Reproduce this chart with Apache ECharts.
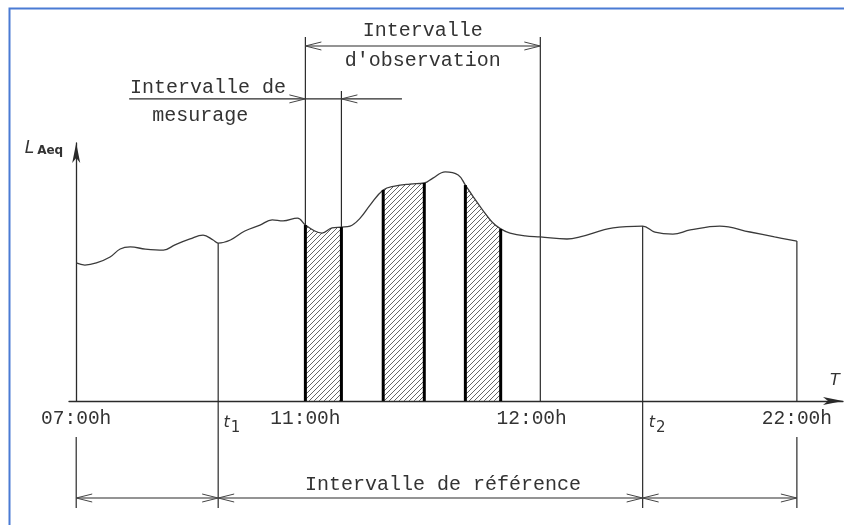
<!DOCTYPE html>
<html>
<head>
<meta charset="utf-8">
<script src="https://cdn.jsdelivr.net/npm/echarts@6/dist/echarts.min.js"></script>
<style>
  html, body { margin: 0; padding: 0; background: #fff; }
  #chart { width: 844px; height: 525px; }
</style>
</head>
<body>
<div id="chart"></div>
<script>
// L_Aeq curve (arbitrary units: x 0 = 07:00h, x 100 = 22:00h)
const curveX = [0, 1.2, 2.8, 4.7, 6.1, 7.5, 9.6, 12.1, 13.7, 15.8, 17.6, 19.0, 19.7, 21.4, 23.4, 25.5, 27.2, 28.7, 30.7,
  31.8, 33.1, 34.1, 35.5, 36.8, 38.0, 39.4, 40.8, 42.6, 44.2, 46.3, 48.3, 49.5, 51.2, 53.0, 54.0, 55.1, 56.4, 57.7, 58.9,
  60.2, 62.3, 64.4, 68.1, 69.9, 74.5, 78.6, 80.3, 82.8, 85.2, 89.3, 93.5, 96.9, 100];
const curveY = [53.5, 52.7, 53.5, 55.8, 58.9, 59.7, 58.9, 58.5, 60.5, 62.8, 64.3, 62.4, 61.2, 62.4, 65.9, 68.2, 70.2, 69.8, 70.9,
  68.2, 65.9, 65.1, 67.1, 67.4, 67.8, 70.9, 76.0, 81.8, 83.3, 84.1, 84.5, 86.4, 88.8, 87.6, 83.7, 79.1, 74.0, 69.4, 66.7,
  65.1, 64.0, 63.6, 62.8, 63.6, 67.1, 67.8, 65.5, 64.7, 66.3, 67.8, 65.5, 63.6, 62.0];

// measuring intervals (hatched)
const hatchRanges = [[31.8, 36.8], [42.6, 48.3], [54.0, 58.9]];

// tick labels on the T axis
const tickPos = [0, 21.6, 31.8, 63.2, 80.6, 100];
const tickLabels = ['07:00h', 't1', '11:00h', '12:00h', 't2', '22:00h'];

// thin vertical lines: [x, from, to]
const guides = [
  [0, -41.5, -14.0],
  [19.7, -41.5, 61.2],
  [31.8, 0, 141.1],
  [36.8, 0, 120.2],
  [64.4, 0, 141.1],
  [78.6, -41.5, 67.8],
  [100, 0, 62.0],
  [100, -41.5, -14.0]
];

// dimension lines: [x1, x2, y]
const dimLines = [[31.8, 64.4, 137.6], [7.35, 45.2, 117.1], [0, 100, -37.6]];
// arrow heads: [tip x, y, direction]
const arrowHeads = [
  [31.8, 137.6, -1], [64.4, 137.6, 1],
  [31.8, 117.1, 1], [36.8, 117.1, -1],
  [0, -37.6, -1], [19.7, -37.6, 1], [19.7, -37.6, -1],
  [78.6, -37.6, 1], [78.6, -37.6, -1], [100, -37.6, 1]
];

// annotation texts and their anchors
const noteTexts = ['Intervalle', "d'observation", 'Intervalle de', 'mesurage', 'Intervalle de référence'];
const noteAnchors = [[48.1, 143.4], [48.1, 131.8], [18.3, 121.3], [17.2, 110.5], [50.9, -32.6]];

const ink = '#333';
const monoFont = '20px "Liberation Mono", "DejaVu Sans Mono", monospace';

// hatch pattern
const tile = document.createElement('canvas');
tile.width = 5; tile.height = 5;
const tc = tile.getContext('2d');
tc.strokeStyle = '#555';
tc.lineWidth = 0.9;
tc.beginPath();
tc.moveTo(-1, 6); tc.lineTo(6, -1);
tc.moveTo(-1, 1); tc.lineTo(1, -1);
tc.moveTo(4, 6); tc.lineTo(6, 4);
tc.stroke();

const curve = curveX.map((x, i) => [x, curveY[i]]);
const levelAt = (x) => curveY[curveX.indexOf(x)];

const hatchSeries = hatchRanges.map((r) => ({
  type: 'line',
  data: curve.filter((p) => p[0] >= r[0] && p[0] <= r[1]),
  smooth: 0.4,
  symbol: 'none',
  lineStyle: { width: 0 },
  areaStyle: { color: { image: tile, repeat: 'repeat' }, opacity: 1 },
  z: 1,
  silent: true
}));

const edges = hatchRanges.flat().map((x) => [x, 0, levelAt(x)]);

const tickText = (v) => {
  let k = 0;
  tickPos.forEach((p, i) => { if (Math.abs(p - v) < Math.abs(tickPos[k] - v)) k = i; });
  const t = tickLabels[k];
  return t.charAt(0) === 't' ? '{t|t}{n|' + t.slice(1) + '}' : t;
};

const segment = (color, width) => (params, api) => {
  const a = api.coord([api.value(0), api.value(1)]);
  const b = api.coord([api.value(0), api.value(2)]);
  return { type: 'line', shape: { x1: a[0], y1: a[1], x2: b[0], y2: b[1] }, style: { stroke: color, lineWidth: width } };
};

const chart = echarts.init(document.getElementById('chart'));

chart.setOption({
  animation: false,
  grid: { left: 69, right: 1, top: 143, bottom: 124 },
  xAxis: {
    type: 'value',
    min: -1,
    max: 106.4,
    name: 'T',
    nameLocation: 'end',
    nameGap: -13,
    nameTextStyle: {
      fontFamily: 'DejaVu Sans', fontStyle: 'italic', fontSize: 16, color: ink,
      verticalAlign: 'bottom', padding: [0, 0, 12, 0]
    },
    axisLine: { lineStyle: { color: '#2a2a2a', width: 1.3 }, symbol: ['none', 'arrow'], symbolSize: [6, 20] },
    axisTick: { show: false },
    splitLine: { show: false },
    axisLabel: {
      customValues: tickPos,
      margin: 8,
      fontFamily: '"Liberation Mono", monospace',
      fontSize: 19.5,
      color: ink,
      formatter: tickText,
      rich: {
        t: { fontFamily: 'DejaVu Sans', fontStyle: 'italic', fontSize: 16, color: ink },
        n: { fontFamily: 'DejaVu Sans', fontSize: 15, color: ink, padding: [12, 0, 0, 1] }
      }
    }
  },
  yAxis: {
    type: 'value',
    min: 0,
    max: 100,
    name: '{l|L}{s|Aeq}',
    nameLocation: 'end',
    nameGap: -8,
    nameTextStyle: {
      align: 'right',
      verticalAlign: 'middle',
      padding: [0, 13, 0, 0],
      rich: {
        l: { fontFamily: 'DejaVu Sans', fontStyle: 'italic', fontSize: 17, color: ink, padding: [0, 3, 4, 0] },
        s: { fontFamily: 'DejaVu Sans', fontWeight: 'bold', fontSize: 12, color: ink }
      }
    },
    axisLine: { lineStyle: { color: '#2a2a2a', width: 1.3 }, symbol: ['none', 'arrow'], symbolSize: [6, 20] },
    axisTick: { show: false },
    axisLabel: { show: false },
    splitLine: { show: false }
  },
  graphic: [{
    type: 'polyline',
    shape: { points: [[9.5, 525], [9.5, 8.5], [844, 8.5]] },
    style: { stroke: '#4a7bd4', lineWidth: 2, fill: null },
    silent: true
  }],
  series: [
    ...hatchSeries,
    {
      type: 'line',
      data: curve,
      smooth: 0.4,
      symbol: 'none',
      lineStyle: { color: '#3a3a3a', width: 1.3 },
      z: 3,
      silent: true
    },
    { type: 'custom', clip: false, silent: true, z: 2, data: guides, renderItem: segment('#2a2a2a', 1.2) },
    { type: 'custom', clip: false, silent: true, z: 4, data: edges, renderItem: segment('#000', 3) },
    {
      type: 'custom',
      clip: false,
      silent: true,
      z: 2,
      data: dimLines,
      renderItem: (params, api) => {
        const a = api.coord([api.value(0), api.value(2)]);
        const b = api.coord([api.value(1), api.value(2)]);
        return { type: 'line', shape: { x1: a[0], y1: a[1], x2: b[0], y2: b[1] }, style: { stroke: '#2a2a2a', lineWidth: 1.2 } };
      }
    },
    {
      type: 'custom',
      clip: false,
      silent: true,
      z: 2,
      data: arrowHeads,
      renderItem: (params, api) => {
        const p = api.coord([api.value(0), api.value(1)]);
        const d = api.value(2);
        return {
          type: 'polyline',
          shape: { points: [[p[0] - d * 16, p[1] - 4], [p[0], p[1]], [p[0] - d * 16, p[1] + 4]] },
          style: { stroke: '#444', lineWidth: 1, fill: null }
        };
      }
    },
    {
      type: 'custom',
      clip: false,
      silent: true,
      z: 5,
      data: noteAnchors,
      renderItem: (params, api) => {
        const p = api.coord([api.value(0), api.value(1)]);
        return {
          type: 'text',
          x: p[0],
          y: p[1],
          style: { text: noteTexts[params.dataIndex], font: monoFont, fill: ink, align: 'center', verticalAlign: 'middle' }
        };
      }
    }
  ]
});
</script>
</body>
</html>
